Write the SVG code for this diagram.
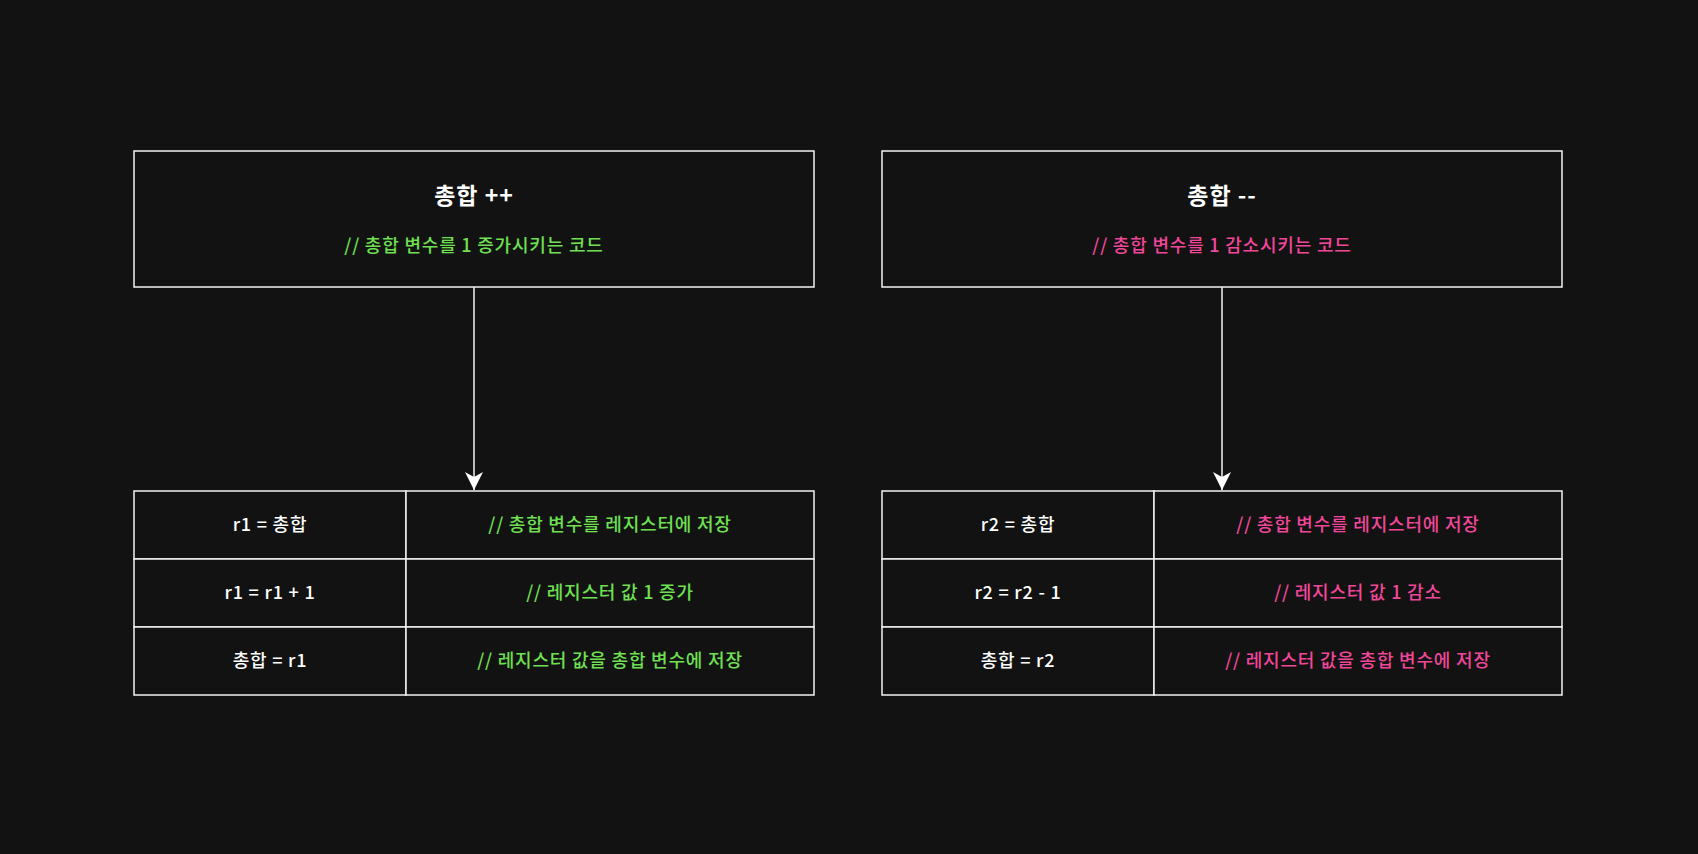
<svg xmlns="http://www.w3.org/2000/svg" width="1698" height="854" viewBox="0 0 1698 854">
<defs>
<marker id="ah" viewBox="0 0 20 20" refX="18" refY="10" markerWidth="20" markerHeight="20" markerUnits="userSpaceOnUse" orient="auto">
<path d="M0,1 L18,10 L0,19 L5,10 Z" fill="#ffffff"/>
</marker>
</defs>
<style>
text{font-family:"Noto Sans CJK KR","Noto Sans",sans-serif;text-anchor:middle;}
.box{fill:#121212;stroke:#f2f2f2;stroke-width:1.5;}
.ttl{font-size:23px;font-weight:600;fill:#ffffff;letter-spacing:1px;}
.t{font-size:18px;font-weight:500;fill:#ffffff;letter-spacing:0.8px;}
.g{font-size:18px;font-weight:500;fill:#6fe052;letter-spacing:0.8px;}
.p{font-size:18px;font-weight:500;fill:#f0479a;letter-spacing:0.8px;}
.edge{stroke:#f2f2f2;stroke-width:1.5;fill:none;}
</style>
<rect width="1698" height="854" fill="#121212"/>
<g id="connectors">
<path class="edge" d="M474,287 L474,490" marker-end="url(#ah)"/>
<path class="edge" d="M1222,287 L1222,490" marker-end="url(#ah)"/>
</g>
<g id="inc-head">
<rect class="box" x="134" y="151" width="680" height="136"/>
<text class="ttl" x="474" y="204">총합 ++</text>
<text class="g" x="474" y="252">// 총합 변수를 1 증가시키는 코드</text>
</g>
<g id="dec-head">
<rect class="box" x="882" y="151" width="680" height="136"/>
<text class="ttl" x="1222" y="204">총합 --</text>
<text class="p" x="1222" y="252">// 총합 변수를 1 감소시키는 코드</text>
</g>
<g id="inc-table">
<rect class="box" x="134" y="491" width="272" height="68"/>
<rect class="box" x="406" y="491" width="408" height="68"/>
<rect class="box" x="134" y="559" width="272" height="68"/>
<rect class="box" x="406" y="559" width="408" height="68"/>
<rect class="box" x="134" y="627" width="272" height="68"/>
<rect class="box" x="406" y="627" width="408" height="68"/>
<text class="t" x="270" y="531">r1 = 총합</text>
<text class="g" x="610" y="531">// 총합 변수를 레지스터에 저장</text>
<text class="t" x="270" y="599">r1 = r1 + 1</text>
<text class="g" x="610" y="599">// 레지스터 값 1 증가</text>
<text class="t" x="270" y="667">총합 = r1</text>
<text class="g" x="610" y="667">// 레지스터 값을 총합 변수에 저장</text>
</g>
<g id="dec-table">
<rect class="box" x="882" y="491" width="272" height="68"/>
<rect class="box" x="1154" y="491" width="408" height="68"/>
<rect class="box" x="882" y="559" width="272" height="68"/>
<rect class="box" x="1154" y="559" width="408" height="68"/>
<rect class="box" x="882" y="627" width="272" height="68"/>
<rect class="box" x="1154" y="627" width="408" height="68"/>
<text class="t" x="1018" y="531">r2 = 총합</text>
<text class="p" x="1358" y="531">// 총합 변수를 레지스터에 저장</text>
<text class="t" x="1018" y="599">r2 = r2 - 1</text>
<text class="p" x="1358" y="599">// 레지스터 값 1 감소</text>
<text class="t" x="1018" y="667">총합 = r2</text>
<text class="p" x="1358" y="667">// 레지스터 값을 총합 변수에 저장</text>
</g>
</svg>
